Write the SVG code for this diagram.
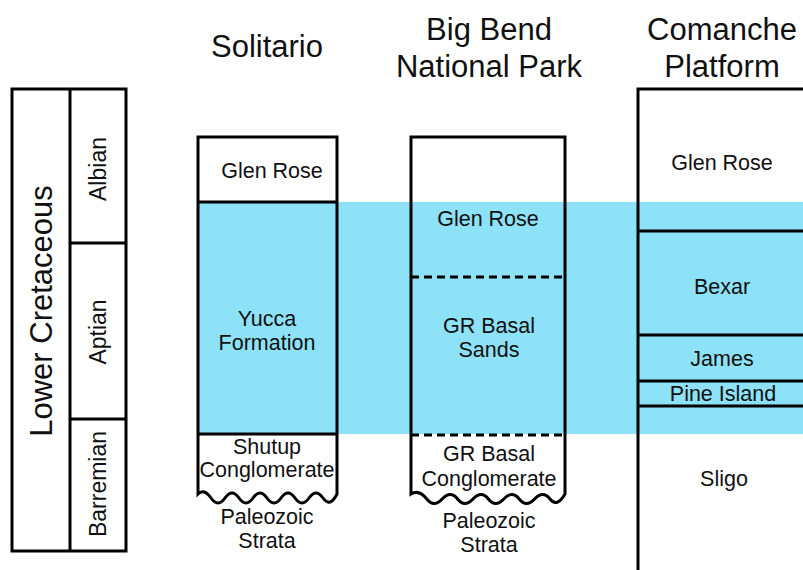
<svg xmlns="http://www.w3.org/2000/svg" width="803" height="570" viewBox="0 0 803 570">
<style>
text{font-family:"Liberation Sans",Arial,sans-serif;fill:#111;text-anchor:middle}
.t{font-size:31px}
.l{font-size:21.5px}
.s{font-size:23px}
.b{fill:none;stroke:#000;stroke-width:3}
.d{fill:none;stroke:#000;stroke-width:3;stroke-dasharray:8 5}
</style>
<rect width="803" height="570" fill="#fff"/>
<rect id="band" x="197" y="202" width="606" height="232" fill="#8DE2F8"/>
<g id="titles">
<text class="t" x="267" y="57">Solitario</text>
<text class="t" x="489" y="40">Big Bend</text>
<text class="t" x="489" y="77">National Park</text>
<text class="t" x="722" y="40">Comanche</text>
<text class="t" x="722" y="77">Platform</text>
</g>
<g id="timescale">
<rect class="b" x="12" y="89" width="114" height="462"/>
<line class="b" x1="70" y1="89" x2="70" y2="551"/>
<line class="b" x1="70" y1="243" x2="126" y2="243"/>
<line class="b" x1="70" y1="419" x2="126" y2="419"/>
<text class="t" transform="translate(52,311) rotate(-90)">Lower Cretaceous</text>
<text class="s" transform="translate(106,169) rotate(-90)">Albian</text>
<text class="s" transform="translate(106,332) rotate(-90)">Aptian</text>
<text class="s" transform="translate(106,484) rotate(-90)">Barremian</text>
</g>
<g id="solitario">
<path class="b" d="M198,137 H337 V494 Q330,508 323,498 T309,498 T295,498 T281,498 T267,498 T253,498 T239,498 T225,498 T211,498 Q204,488 198,494 Z"/>
<line class="b" x1="198" y1="202" x2="337" y2="202"/>
<line class="b" x1="198" y1="434" x2="337" y2="434"/>
<text class="l" x="272" y="178">Glen Rose</text>
<text class="l" x="267" y="326">Yucca</text>
<text class="l" x="267" y="350">Formation</text>
<text class="l" x="267" y="454">Shutup</text>
<text class="l" x="267" y="477">Conglomerate</text>
<text class="l" x="267" y="524">Paleozoic</text>
<text class="l" x="267" y="548">Strata</text>
</g>
<g id="bigbend">
<path class="b" d="M411,137 H565 V494 Q557,508 550,499 T534.6,499 T519.2,499 T503.8,499 T488.4,499 T473,499 T457.6,499 T442.2,499 T426.8,499 Q419,489 411,494 Z"/>
<line class="d" x1="411" y1="277" x2="565" y2="277"/>
<line class="d" x1="411" y1="435" x2="565" y2="435"/>
<text class="l" x="488" y="226">Glen Rose</text>
<text class="l" x="489" y="333">GR Basal</text>
<text class="l" x="489" y="357">Sands</text>
<text class="l" x="489" y="461">GR Basal</text>
<text class="l" x="489" y="486">Conglomerate</text>
<text class="l" x="489" y="528">Paleozoic</text>
<text class="l" x="489" y="552">Strata</text>
</g>
<g id="comanche">
<path class="b" d="M803,89 H638 V572"/>
<line class="b" x1="638" y1="231" x2="803" y2="231"/>
<line class="b" x1="638" y1="335" x2="803" y2="335"/>
<line class="b" x1="638" y1="381" x2="803" y2="381"/>
<line class="b" x1="638" y1="406" x2="803" y2="406"/>
<text class="l" x="722" y="170">Glen Rose</text>
<text class="l" x="722" y="294">Bexar</text>
<text class="l" x="722" y="366">James</text>
<text class="l" x="723" y="401">Pine Island</text>
<text class="l" x="724" y="486">Sligo</text>
</g>
</svg>
